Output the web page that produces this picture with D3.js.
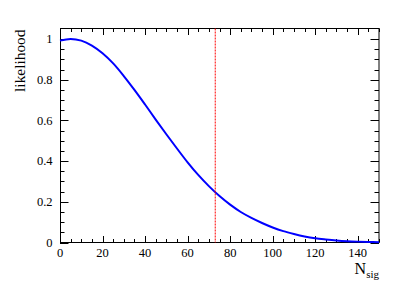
<!DOCTYPE html>
<html><head><meta charset="utf-8">
<script src="https://cdn.jsdelivr.net/npm/d3@7"></script>
<style>body{margin:0;background:#fff}svg{display:block}text{font-family:"Liberation Serif","Times New Roman",serif;fill:#000}</style>
</head><body><svg id="c" width="399" height="286"></svg>
<script>
const nsig = [0,5,10,15,20,25,30,35,40,45,50,55,60,65,70,75,80,85,90,95,100,105,110,115,120,125,130,135,140,145,150];
const likelihood = [0.992,1.0,0.992,0.968,0.930,0.880,0.818,0.750,0.678,0.604,0.532,0.462,0.394,0.332,0.277,0.228,0.186,0.150,0.121,0.096,0.074,0.056,0.042,0.030,0.021,0.015,0.010,0.0065,0.0043,0.0028,0.0018];
const limitValue = 73;
const xTicks = [0,20,40,60,80,100,120,140];
const yTicks = [0,0.2,0.4,0.6,0.8,1];
const yTickLabels = ["0","0.2","0.4","0.6","0.8","1"];

const svg = d3.select("#c");
const L=60, R=379, T=28.5, B=242.5;
const x = d3.scaleLinear().domain([0,150]).range([L,R]);
const y = d3.scaleLinear().domain([0,1.0516]).range([B,T]);

const g = svg.append("g");
const xMinor = d3.range(0,151,5);
const yMinor = d3.range(0,1.05,0.05);
function isMajorX(v){return v%20===0;}
function isMajorY(v){return Math.abs(v*5-Math.round(v*5))<1e-6;}
xMinor.forEach(v=>{
  const len = isMajorX(v)?6.5:3.5;
  const px = Math.round(x(v))+0.5;
  g.append("line").attr("x1",px).attr("x2",px).attr("y1",B).attr("y2",B-len).attr("stroke","#000");
  g.append("line").attr("x1",px).attr("x2",px).attr("y1",T).attr("y2",T+len).attr("stroke","#000");
});
yMinor.forEach(v=>{
  const len = isMajorY(v)?8.5:4.5;
  const py = Math.round(y(v))+0.5;
  g.append("line").attr("x1",L).attr("x2",L+len).attr("y1",py).attr("y2",py).attr("stroke","#000");
  g.append("line").attr("x1",R).attr("x2",R-len).attr("y1",py).attr("y2",py).attr("stroke","#000");
});
g.append("rect").attr("x",L+0.5).attr("y",T).attr("width",R-L-0.5).attr("height",B-T)
  .attr("fill","none").attr("stroke","#000").attr("stroke-width",1);

xTicks.forEach(v=>{
  svg.append("text").attr("x",x(v)).attr("y",257).attr("text-anchor","middle").attr("font-size",12.5).text(String(v));
});
yTicks.forEach((v,i)=>{
  svg.append("text").attr("x",52.5).attr("y",y(v)+4.3).attr("text-anchor","end").attr("font-size",12.5).text(yTickLabels[i]);
});
svg.append("text").attr("transform","translate(24.5,29.5) rotate(-90)").attr("text-anchor","end").attr("font-size",15.4).text("likelihood");
const xt = svg.append("text").attr("x",379).attr("y",274).attr("text-anchor","end").attr("font-size",16);
xt.append("tspan").text("N");
xt.append("tspan").attr("font-size",11).attr("dy",4).text("sig");

const line = d3.line().x((d,i)=>x(nsig[i])).y(d=>y(d)).curve(d3.curveCatmullRom.alpha(0.5));
svg.append("path").datum(likelihood).attr("d",line).attr("fill","none").attr("stroke","#0000ff").attr("stroke-width",2);
svg.append("line").attr("x1",x(limitValue)).attr("x2",x(limitValue)).attr("y1",T).attr("y2",B)
  .attr("stroke","#ff0000").attr("stroke-width",1).attr("stroke-dasharray","2,1");
</script></body></html>
